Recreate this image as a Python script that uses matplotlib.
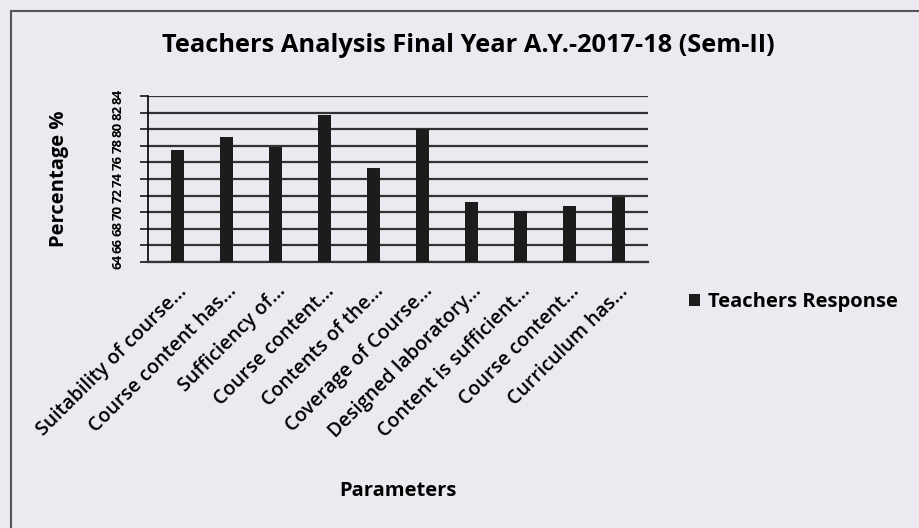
import matplotlib
matplotlib.use('Agg')
import matplotlib.pyplot as plt
from matplotlib.patches import Rectangle

categories = [
    'Suitability of course...', 'Course content has...', 'Sufficiency of...',
    'Course content...', 'Contents of the...', 'Coverage of Course...',
    'Designed laboratory...', 'Content is sufficient...', 'Course content...',
    'Curriculum has...',
]
teachers_response = [77.5, 79.1, 77.9, 81.7, 75.3, 80.0, 71.2, 70.1, 70.7, 71.8]
y_ticks = list(range(64, 85, 2))

plt.rcParams['font.family'] = ['Open Sans', 'DejaVu Sans']

bg = '#ece9f0'
fig = plt.figure(figsize=(9.19, 5.28), dpi=100, facecolor=bg)
fig.patches.append(Rectangle((0.012, -0.02), 1.0, 1.0, transform=fig.transFigure,
                             fill=False, edgecolor='#555555', linewidth=1.5))

ax = fig.add_axes([0.161, 0.504, 0.544, 0.314], facecolor=bg)
x = range(len(categories))
ax.bar(x, teachers_response, width=0.27, color='#1c1c1c', zorder=3,
       label='Teachers Response')

ax.set_ylim(64, 84)
ax.set_yticks(y_ticks)
ax.set_yticklabels([str(t) for t in y_ticks], rotation=90, va='center',
                   fontsize=9.5, fontweight='bold')
ax.set_xlim(-0.6, len(categories) - 0.4)
ax.set_xticks(list(x))
ax.set_xticklabels(categories, rotation=45, ha='right', rotation_mode='anchor',
                   fontsize=14, fontweight='semibold')
ax.tick_params(axis='x', length=0, pad=14)
ax.tick_params(axis='y', length=6, width=1.4, pad=11, direction='out', color='#333333')
ax.yaxis.grid(True, color='#333333', linewidth=1.6, zorder=0)
for side in ['top', 'right']:
    ax.spines[side].set_visible(False)
ax.spines['left'].set_linewidth(1.2)
ax.spines['bottom'].set_linewidth(1.6)
ax.spines['bottom'].set_color('#333333')

ax.set_ylabel('Percentage %', fontsize=14.5, fontweight='bold')
ax.yaxis.set_label_coords(-0.158, 0.5)
ax.set_xlabel('Parameters', fontsize=14.5, fontweight='bold')
ax.xaxis.set_label_coords(0.5, -1.32)

fig.suptitle('Teachers Analysis Final Year A.Y.-2017-18 (Sem-II)', x=0.510, y=0.937,
             fontsize=18.3, fontweight='bold')

fig.legend(loc='center left', bbox_to_anchor=(0.73, 0.428), frameon=False,
           prop={'size': 14.5, 'weight': 'bold'}, handlelength=0.55, handleheight=0.55,
           handletextpad=0.4)

fig.savefig('out.png', dpi=100, facecolor=bg)
